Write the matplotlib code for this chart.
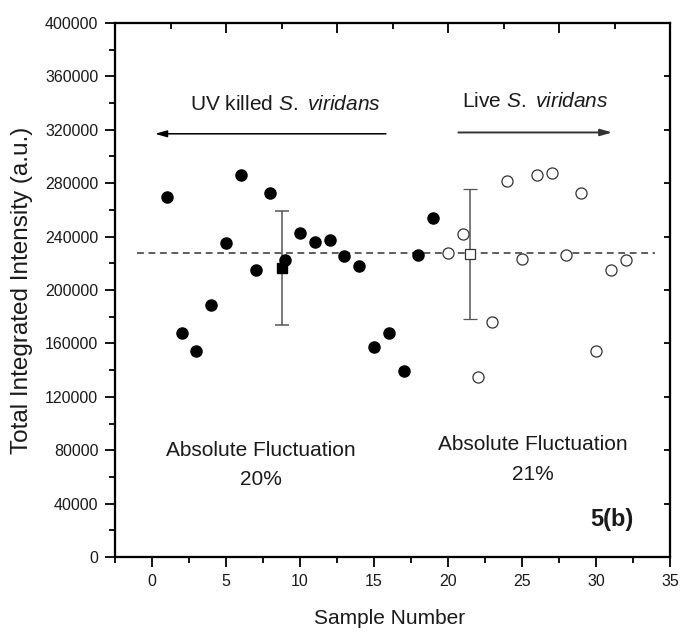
import matplotlib
matplotlib.use("Agg")
import matplotlib.pyplot as plt
from matplotlib.ticker import MultipleLocator

plt.rcParams['font.family'] = ['Liberation Sans', 'DejaVu Sans']
plt.rcParams['mathtext.fontset'] = 'custom'
plt.rcParams['mathtext.rm'] = 'Liberation Sans'
plt.rcParams['mathtext.it'] = 'Liberation Sans:italic'

# Data
uv_x = list(range(1, 20))
uv_y = [270000, 168000, 154000, 188500, 235500, 286000, 215000, 273000, 222500,
        242500, 236000, 237500, 225500, 218000, 157000, 168000, 139500, 226500, 254000]
live_x = list(range(20, 33))
live_y = [228000, 242000, 135000, 176000, 281500, 223500, 286000, 288000, 226000,
          272500, 154500, 215000, 222500]
uv_mean_x, uv_mean_y, uv_err = 8.75, 216500, 43000
live_mean_x, live_mean_y, live_err = 21.5, 227000, 49000
mean_line_x = [-1, 34]
mean_line_y = [228000, 228000]

fig = plt.figure(figsize=(6.83, 6.33), dpi=100)
ax = fig.add_axes([0.1684, 0.12, 0.981 - 0.1684, 0.9637 - 0.12])

tc = '#1a1a1a'
ax.plot(mean_line_x, mean_line_y, ls=(0, (4.5, 3)), color='#333333', lw=1.1, zorder=1)

ax.errorbar([uv_mean_x], [uv_mean_y], yerr=[uv_err], fmt='s', color='black',
            ms=7.5, ecolor='#555555', elinewidth=1.1, capsize=5, capthick=1.1, zorder=3)
ax.errorbar([live_mean_x], [live_mean_y], yerr=[live_err], fmt='s', mfc='white',
            mec='#333333', mew=0.9, ms=7, ecolor='#555555', elinewidth=1.1,
            capsize=5, capthick=1.1, zorder=3)

ax.plot(uv_x, uv_y, 'o', color='black', ms=8, zorder=4)
ax.plot(live_x, live_y, 'o', mfc='white', mec='#333333', mew=0.9, ms=8, zorder=4)

ax.set_xlim(-2.5, 35)
ax.set_ylim(0, 400000)
ax.xaxis.set_major_locator(MultipleLocator(5))
ax.xaxis.set_minor_locator(MultipleLocator(2.5))
ax.yaxis.set_major_locator(MultipleLocator(40000))
ax.yaxis.set_minor_locator(MultipleLocator(20000))
ax.tick_params(which='major', direction='out', length=7.5, width=1.3,
               labelsize=11.5, labelcolor=tc, pad=4.5)
ax.tick_params(which='minor', direction='out', length=4, width=1.3)
for s in ax.spines.values():
    s.set_linewidth(1.5)

ax.set_xlabel('Sample Number', fontsize=15, color=tc)
ax.xaxis.set_label_coords(0.495, -0.097)
ax.set_ylabel('Total Integrated Intensity (a.u.)', fontsize=17.5, color=tc)
ax.yaxis.set_label_coords(-0.148, 0.5)

# top axis ticks
axt = ax.twiny()
axt.set_xlim(0, 10)
axt.xaxis.set_major_locator(MultipleLocator(2))
axt.xaxis.set_minor_locator(MultipleLocator(1))
axt.tick_params(which='major', direction='in', length=7.5, width=1.3, labeltop=False)
axt.tick_params(which='minor', direction='in', length=4, width=1.3)
# right axis ticks
axr = ax.twinx()
axr.set_ylim(0, 400000)
axr.yaxis.set_major_locator(MultipleLocator(40000))
axr.tick_params(which='major', direction='in', length=4, width=1.3, labelright=False)
for a in (axt, axr):
    for s in a.spines.values():
        s.set_linewidth(1.5)

ax.annotate('', xy=(0.2, 317000), xytext=(15.8, 317000),
            arrowprops=dict(arrowstyle='-|>,head_length=0.7,head_width=0.2',
                            color='black', lw=1.1, shrinkA=0, shrinkB=0))
ax.annotate('', xy=(31.1, 318000), xytext=(20.7, 318000),
            arrowprops=dict(arrowstyle='-|>,head_length=0.7,head_width=0.2',
                            color='#333333', lw=1.4, shrinkA=0, shrinkB=0))

ax.text(9.0, 339000, r'UV killed $\mathit{S.\ viridans}$', fontsize=15,
        color=tc, ha='center', va='center')
ax.text(25.9, 341000, r'Live $\mathit{S.\ viridans}$', fontsize=15,
        color=tc, ha='center', va='center')
ax.text(7.35, 79500, 'Absolute Fluctuation', fontsize=15, color=tc,
        ha='center', va='center')
ax.text(7.35, 58000, '20%', fontsize=15, color=tc, ha='center', va='center')
ax.text(25.7, 84000, 'Absolute Fluctuation', fontsize=15, color=tc,
        ha='center', va='center')
ax.text(25.7, 62000, '21%', fontsize=15, color=tc, ha='center', va='center')
ax.text(32.5, 28000, '5(b)', fontsize=17, fontweight='bold', color=tc,
        ha='right', va='center')

fig.savefig('out.png', dpi=100)
